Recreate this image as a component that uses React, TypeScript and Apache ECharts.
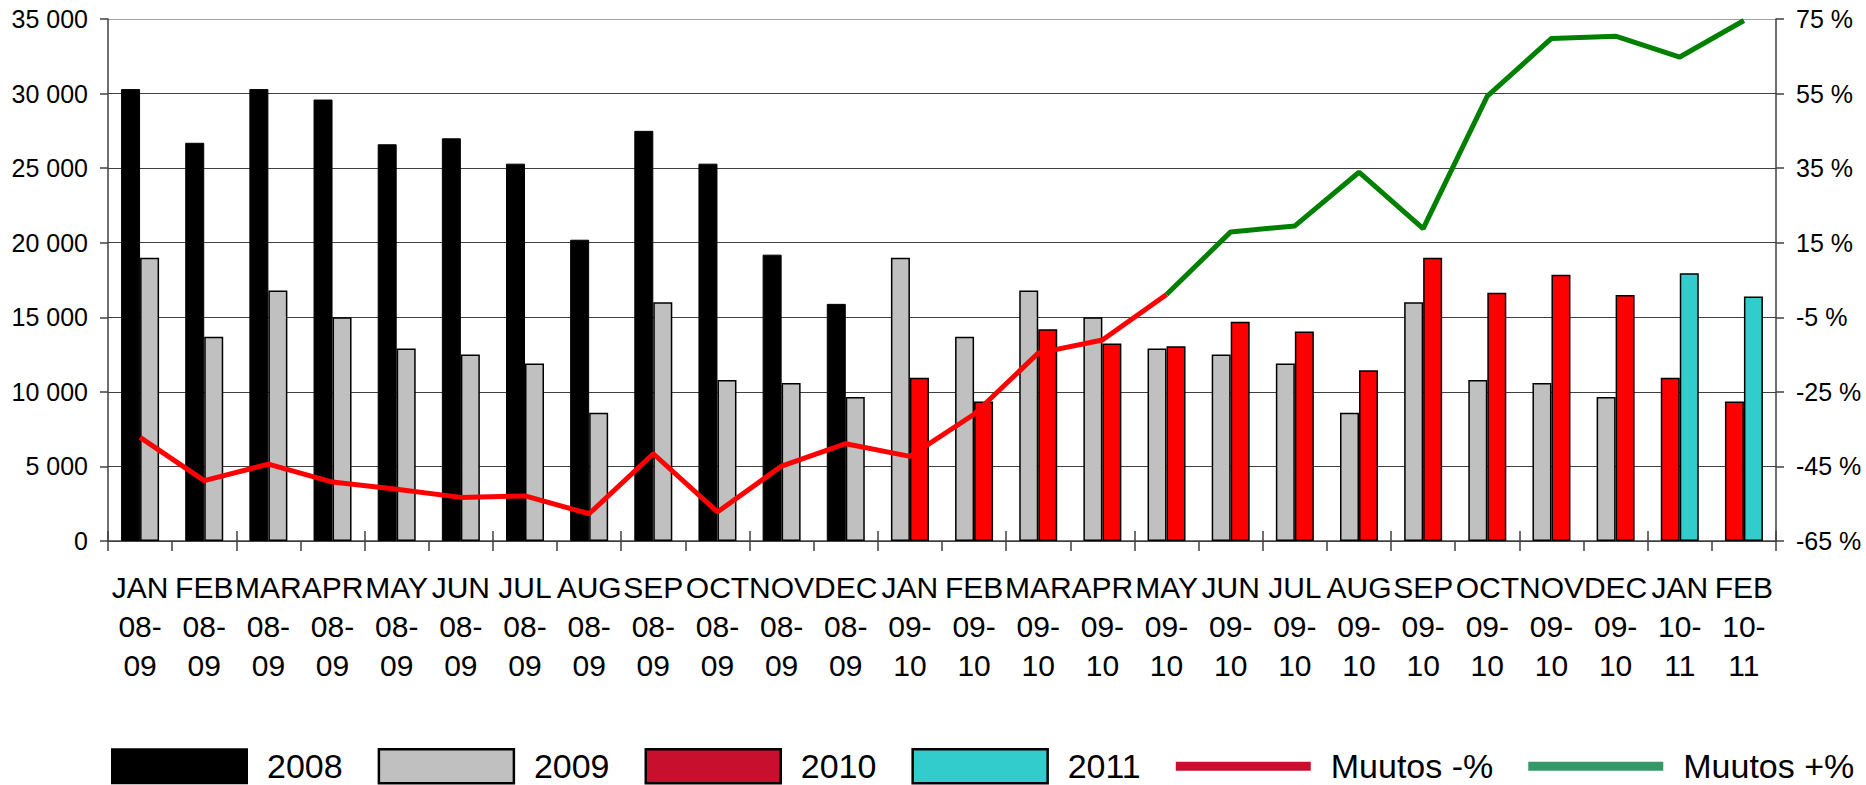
import React, { useEffect, useRef } from "react";
import * as echarts from "echarts";

const categories = [
  "JAN 08-09", "FEB 08-09", "MAR 08-09", "APR 08-09", "MAY 08-09", "JUN 08-09",
  "JUL 08-09", "AUG 08-09", "SEP 08-09", "OCT 08-09", "NOV 08-09", "DEC 08-09",
  "JAN 09-10", "FEB 09-10", "MAR 09-10", "APR 09-10", "MAY 09-10", "JUN 09-10",
  "JUL 09-10", "AUG 09-10", "SEP 09-10", "OCT 09-10", "NOV 09-10", "DEC 09-10",
  "JAN 10-11", "FEB 10-11",
];

const values2008 = [30300, 26700, 30300, 29600, 26600, 27000, 25300, 20200, 27500, 25300, 19200, 15900];
const values2009 = [19000, 13700, 16800, 15000, 12900, 12500, 11900, 8600, 16000, 10800, 10600, 9650];
const values2010 = [10950, 9350, 14200, 13250, 13050, 14700, 14050, 11450, 19000, 16650, 17850, 16500];
const values2011 = [17950, 16400];

// percent change, negative segment (JAN 08-09 .. MAY 09-10)
const changeNeg = [-37.2, -48.8, -44.4, -49.2, -51.1, -53.3, -52.9, -57.7, -41.6, -57.2, -44.9, -38.9, -42.3, -31.0, -14.6, -11.1, 1.1];
// percent change, positive segment (MAY 09-10 .. FEB 10-11)
const changePos = [1.1, 17.9, 19.5, 33.9, 18.8, 54.3, 69.8, 70.4, 64.8, 74.6];

const leftTicks = [0, 5000, 10000, 15000, 20000, 25000, 30000, 35000];
const rightTicks = [-65, -45, -25, -5, 15, 35, 55, 75];

const FONT = "'Liberation Sans', Arial, Helvetica, sans-serif";

function nulls(n: number) {
  return new Array(n).fill("-");
}

function App() {
  const ref = useRef<HTMLDivElement>(null);

  useEffect(() => {
    if (!ref.current) return;
    const chart = echarts.init(ref.current, undefined, { renderer: "svg" });
    const N = categories.length;

    const barBase = {
      type: "bar",
      barWidth: 19,
      barGap: "0%",
      xAxisIndex: 0,
      yAxisIndex: 0,
    };

    const black = { color: "#000000", borderColor: "#000000", borderWidth: 1 };
    const gray = { color: "#C0C0C0", borderColor: "#000000", borderWidth: 1.5 };
    const red = { color: "#FF0000", borderColor: "#000000", borderWidth: 1.5 };
    const cyan = { color: "#33CCCC", borderColor: "#000000", borderWidth: 1.5 };

    const negData = [...changeNeg, ...nulls(N - changeNeg.length)];
    const posData = [...nulls(N - changePos.length), ...changePos];

    const lineIcon = "path://M0,0L135,0L135,9L0,9Z";

    const option: any = {
      animation: false,
      textStyle: { fontFamily: FONT, color: "#000" },
      grid: { left: 108, right: 90, top: 19, bottom: 244, containLabel: false },
      legend: {
        left: 111,
        top: 748,
        padding: 0,
        itemWidth: 135,
        itemHeight: 34,
        itemGap: 35,
        selectedMode: false,
        textStyle: { fontSize: 34, fontFamily: FONT, color: "#000", padding: [0, 0, 0, 15] },
        data: [
          { name: "2008", icon: "rect", itemStyle: { color: "#000000", borderColor: "#000000", borderWidth: 2 } },
          { name: "2009", icon: "rect", itemStyle: { color: "#C0C0C0", borderColor: "#000000", borderWidth: 2.5 } },
          { name: "2010", icon: "rect", itemStyle: { color: "#C8102E", borderColor: "#000000", borderWidth: 2.5 } },
          { name: "2011", icon: "rect", itemStyle: { color: "#33CCCC", borderColor: "#000000", borderWidth: 2.5 } },
          { name: "Muutos -%", icon: lineIcon, itemStyle: { color: "#C8102E", borderColor: "#C8102E", borderWidth: 0 } },
          { name: "Muutos +%", icon: lineIcon, itemStyle: { color: "#339966", borderColor: "#339966", borderWidth: 0 } },
        ],
      },
      xAxis: [
        {
          type: "category",
          data: categories,
          position: "bottom",
          boundaryGap: true,
          axisLine: { show: true, onZero: false, lineStyle: { color: "#404040", width: 1.5 } },
          axisTick: { show: true, inside: false, length: 10, alignWithLabel: false, lineStyle: { color: "#404040", width: 1.5 } },
          axisLabel: {
            interval: 0,
            hideOverlap: false,
            margin: 27,
            fontSize: 30,
            lineHeight: 39,
            color: "#000",
            fontFamily: FONT,
            formatter: (v: string) => {
              const [m, p] = v.split(" ");
              return `${m}\n${p.slice(0, 3)}\n${p.slice(3)}`;
            },
          },
          splitLine: { show: false },
        },
        {
          type: "category",
          data: categories,
          position: "bottom",
          boundaryGap: true,
          axisLine: { show: false, onZero: false },
          axisTick: { show: true, inside: true, length: 10, alignWithLabel: false, lineStyle: { color: "#404040", width: 1.5 } },
          axisLabel: { show: false },
          splitLine: { show: false },
        },
      ],
      yAxis: [
        {
          type: "value",
          position: "left",
          min: 0,
          max: 35000,
          interval: 5000,
          axisLine: { show: true, onZero: false, lineStyle: { color: "#404040", width: 1.5 } },
          axisTick: { show: true, length: 8, lineStyle: { color: "#404040", width: 1.5 } },
          axisLabel: {
            margin: 20,
            fontSize: 25,
            color: "#000",
            fontFamily: FONT,
            padding: [6, 0, 0, 0],
            formatter: (v: number) => String(v).replace(/\B(?=(\d{3})+(?!\d))/g, " "),
          },
          splitLine: {
            show: true,
            lineStyle: {
              color: leftTicks.map((t) => (t === 35000 ? "#A0A0A0" : "#404040")),
              width: 1.2,
            },
          },
        },
        {
          type: "value",
          position: "right",
          min: -65,
          max: 75,
          axisLine: { show: true, onZero: false, lineStyle: { color: "#404040", width: 1.5 } },
          axisTick: { show: true, length: 8, customValues: rightTicks, lineStyle: { color: "#404040", width: 1.5 } },
          axisLabel: {
            margin: 20,
            fontSize: 25,
            color: "#000",
            fontFamily: FONT,
            padding: [6, 0, 0, 0],
            customValues: rightTicks,
            formatter: (v: number) => `${v} %`,
          },
          splitLine: { show: false },
        },
      ],
      series: [
        { ...barBase, name: "2008", stack: "L", itemStyle: black, data: [...values2008, ...nulls(N - 12)] },
        { ...barBase, name: "2009", stack: "L", itemStyle: gray, data: [...nulls(12), ...values2009, ...nulls(N - 24)] },
        { ...barBase, name: "2010", stack: "L", itemStyle: red, data: [...nulls(24), ...values2010.slice(0, 2)] },
        { ...barBase, name: "2009", stack: "R", itemStyle: gray, data: [...values2009, ...nulls(N - 12)] },
        { ...barBase, name: "2010", stack: "R", itemStyle: red, data: [...nulls(12), ...values2010, ...nulls(N - 24)] },
        { ...barBase, name: "2011", stack: "R", itemStyle: cyan, data: [...nulls(24), ...values2011] },
        {
          type: "line",
          name: "Muutos -%",
          xAxisIndex: 0,
          yAxisIndex: 1,
          data: negData,
          symbol: "none",
          z: 5,
          lineStyle: { color: "#FF0000", width: 5 },
          itemStyle: { color: "#FF0000" },
        },
        {
          type: "line",
          name: "Muutos +%",
          xAxisIndex: 0,
          yAxisIndex: 1,
          data: posData,
          symbol: "none",
          z: 5,
          lineStyle: { color: "#008000", width: 5 },
          itemStyle: { color: "#008000" },
        },
      ],
    };

    chart.setOption(option);
    return () => chart.dispose();
  }, []);

  return (
    <div
      ref={ref}
      style={{ position: "fixed", left: 0, top: 0, width: 1866, height: 785, background: "#fff" }}
    />
  );
}

export default App;
